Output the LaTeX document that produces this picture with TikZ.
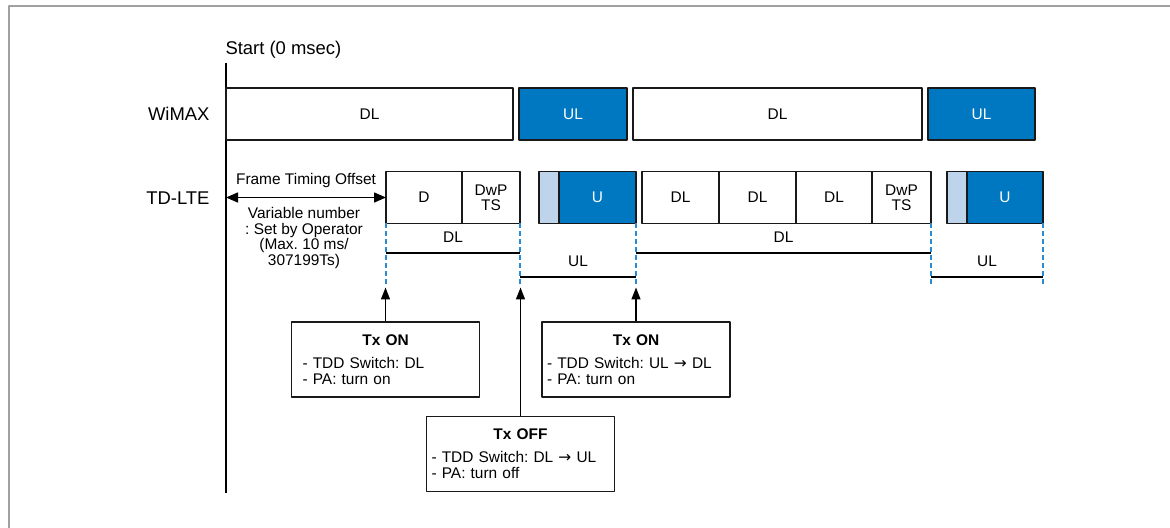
\documentclass[tikz,border=0pt]{standalone}
\usepackage{fontspec}
\setmainfont{Liberation Sans}
\newfontfamily\arrowfont{DejaVu Sans}
\frenchspacing
\usetikzlibrary{arrows.meta}
\definecolor{ulblue}{HTML}{0078C1}
\definecolor{gpblue}{HTML}{BDD4EA}
\definecolor{guideblue}{HTML}{2C8AD3}
\definecolor{framegray}{HTML}{A0A0A0}
\newcommand{\swto}{{\arrowfont →}}
\tikzset{
	slot/.style={draw=black!90,line width=1.5bp,minimum height=52bp,inner sep=0pt,outer sep=0pt,align=center,font=\fontsize{15.5}{15}\selectfont},
	dlslot/.style={slot,fill=white},
	ulslot/.style={slot,fill=ulblue,text=white},
	gpslot/.style={slot,fill=gpblue},
	guide/.style={guideblue,line width=1.5bp,dash pattern=on 5bp off 3bp},
	bar/.style={line width=1.5bp},
	callout/.style={draw=black!90,line width=1.5bp,minimum height=75bp,text width=178bp,inner xsep=5bp,align=left,font=\fontsize{15.5}{16}\selectfont},
	rowlabel/.style={anchor=east,font=\fontsize{18.5}{18.5}\selectfont},
	small/.style={font=\fontsize{15.5}{16}\selectfont}
}
\begin{document}
\begin{tikzpicture}[x=1bp,y=-1bp,>={Triangle[length=12bp,width=9bp]},line join=round]
	\useasboundingbox (0,0) rectangle (1170,528);
	\draw[framegray,line width=2bp] (1170,6.5) -- (9,6.5) -- (9,528);
	% time axis
	\node[anchor=base west,font=\fontsize{18.5}{18.5}\selectfont] (start) at (222,55) {Start (0 msec)};
	\draw[line width=1.5bp] (226,63) -- (226,493);
	% WiMAX frame
	\node[rowlabel] (wimax) at (213,114) {WiMAX};
	\node[dlslot,minimum width=287bp] (wdl1) at (369.5,114) {DL};
	\node[ulslot,minimum width=108bp] (wul1) at (573,114) {UL};
	\node[dlslot,minimum width=289bp] (wdl2) at (777.5,114) {DL};
	\node[ulslot,minimum width=107bp] (wul2) at (981.5,114) {UL};
	% TD-LTE frame
	\node[rowlabel] (tdlte) at (213,198) {TD-LTE};
	\node[dlslot,minimum width=76bp] (d1) at (424,197.5) {D};
	\node[dlslot,minimum width=58bp] (dwp1) at (491,197.5) {DwP\\TS};
	\node[gpslot,minimum width=20bp] (g1) at (549,197.5) {};
	\node[ulslot,minimum width=77bp] (u1) at (597.5,197.5) {U};
	\node[dlslot,minimum width=77bp] (dl2) at (680.5,197.5) {DL};
	\node[dlslot,minimum width=77bp] (dl3) at (757.5,197.5) {DL};
	\node[dlslot,minimum width=76bp] (dl4) at (834,197.5) {DL};
	\node[dlslot,minimum width=59bp] (dwp2) at (901.5,197.5) {DwP\\TS};
	\node[gpslot,minimum width=20bp] (g2) at (957,197.5) {};
	\node[ulslot,minimum width=76bp] (u2) at (1005,197.5) {U};
	% offset
	\coordinate (t0) at (226,197.5);
	\draw[<->,line width=1.5bp,>={Triangle[length=12bp,width=10bp]}] (t0) -- (d1.west) node[midway,yshift=16.5bp,small] (fto) {Frame Timing Offset};
	\node[small,align=center] (var) at (304,238) {Variable number\\: Set by Operator\\(Max. 10 ms/\\307199Ts)};
	% switching points
	\draw[guide] (d1.south west) -- ++(0,64) coordinate (ta);
	\draw[guide] (dwp1.south east) -- ++(0,64) coordinate (tb);
	\draw[guide] (u1.south east) -- ++(0,64) coordinate (tc);
	\draw[guide] (dwp2.south east) -- ++(0,64) coordinate (td);
	\draw[guide] (u2.south east) -- ++(0,64) coordinate (te);
	\draw[bar] (ta |- 0,253) -- (tb |- 0,253) node[midway,yshift=16bp,small] (ldl1) {DL};
	\draw[bar] (tb |- 0,277) -- (tc |- 0,277) node[midway,yshift=16bp,small] (lul1) {UL};
	\draw[bar] (tc |- 0,253) -- (td |- 0,253) node[midway,yshift=16bp,small] (ldl2) {DL};
	\draw[bar] (td |- 0,277) -- (te |- 0,277) node[midway,yshift=16bp,small] (lul2) {UL};
	% events
	\node[callout,text width=166bp,inner xsep=11bp] (on1) at (385.5,359.5) {\makebox[\hsize]{\textbf{Tx ON}}\\[7bp]- TDD Switch: DL\\- PA: turn on};
	\node[callout] (off) at (520.5,454) {\makebox[\hsize]{\textbf{Tx OFF}}\\[7bp]- TDD Switch: DL \swto{} UL\\- PA: turn off};
	\node[callout] (on2) at (636,359.5) {\makebox[\hsize]{\textbf{Tx ON}}\\[7bp]- TDD Switch: UL \swto{} DL\\- PA: turn on};
	\draw[->,line width=1.5bp] (on1) -- (on1 |- ta);
	\draw[->,line width=1.5bp] (off) -- (off |- tb);
	\draw[->,line width=1.5bp] (on2) -- (on2 |- tc);
\end{tikzpicture}
\end{document}
